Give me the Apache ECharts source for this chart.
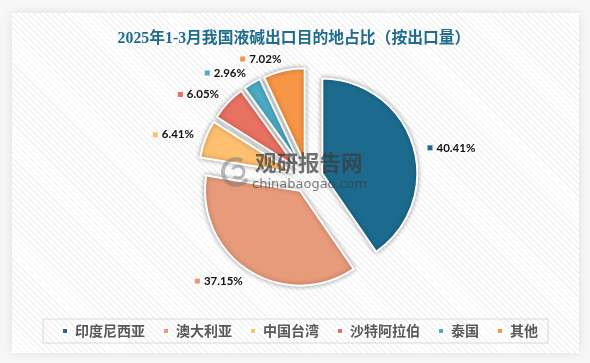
<!DOCTYPE html>
<html>
<head>
<meta charset="utf-8">
<script src="https://cdn.jsdelivr.net/npm/echarts@6/dist/echarts.min.js"></script>
<style>
html,body{margin:0;padding:0;background:#f7f7f7;}
#card{position:absolute;left:12px;top:13px;width:567px;height:340px;
 background:repeating-linear-gradient(45deg,#ffffff 0px,#ffffff 3px,#f1f1f1 3px,#f1f1f1 4.2px);
 box-shadow:0 0 10px rgba(0,0,0,0.10);}
#chart{position:absolute;left:0;top:0;width:590px;height:363px;}
</style>
</head>
<body>
<div id="card"></div>
<div id="chart"></div>
<script>
var titleText = '2025年1-3月我国液碱出口目的地占比（按出口量）';
var categories = ['印度尼西亚', '澳大利亚', '中国台湾', '沙特阿拉伯', '泰国', '其他'];
var shares = [40.41, 37.15, 6.41, 6.05, 2.96, 7.02];
var colors = ['#1c6b8e', '#e89b7a', '#fec06f', '#e97161', '#4bacc6', '#f79646'];

var rich = { t: { fontSize: 11.5, fontWeight: 'bold', color: '#111', fontFamily: 'Lato, Liberation Sans, sans-serif', padding: [0, 0, 0, 4] } };
colors.forEach(function (c, i) {
  rich['i' + i] = { width: 5, height: 5, backgroundColor: c };
});

var data = categories.map(function (name, i) {
  return { name: name, value: shares[i], selected: true, itemStyle: { color: colors[i] } };
});

var chart = echarts.init(document.getElementById('chart'), null, { renderer: 'canvas' });
chart.setOption({
  animation: false,
  color: colors,
  title: {
    text: titleText,
    left: 289,
    top: 26,
    textAlign: 'center',
    textStyle: { fontSize: 15.8, fontWeight: 'bold', color: '#1f6c8c', fontFamily: 'Liberation Serif, Noto Sans CJK SC, serif' }
  },
  legend: {
    data: categories,
    left: 43,
    top: 319,
    orient: 'horizontal',
    icon: 'rect',
    itemWidth: 6,
    itemHeight: 6,
    itemGap: 17,
    borderColor: '#d9d9d9',
    borderWidth: 1,
    padding: [5, 10, 5, 18],
    textStyle: { fontSize: 14, fontWeight: 'bold', color: '#595959', fontFamily: 'Noto Sans CJK SC', padding: [0, 0, 0, 2] }
  },
  graphic: [
    { type: 'arc', z: 100, shape: { cx: 236, cy: 172, r: 13, startAngle: 0.6, endAngle: 5.2 }, style: { stroke: 'rgba(120,120,120,0.5)', lineWidth: 4, fill: null } },
    { type: 'arc', z: 100, shape: { cx: 238, cy: 172, r: 6, startAngle: 3.6, endAngle: 8.6 }, style: { stroke: 'rgba(120,120,120,0.5)', lineWidth: 3, fill: null } },
    { type: 'text', left: 255, top: 152, z: 100, style: { text: '观研报告网', fontSize: 21.5, fontWeight: 'bold', fill: 'rgba(60,60,60,0.72)', fontFamily: 'Noto Sans CJK SC' } },
    { type: 'text', left: 252, top: 178, z: 100, style: { text: 'chinabaogao.com', fontSize: 13, fill: 'rgba(60,60,60,0.68)', fontFamily: 'DejaVu Sans, sans-serif' } }
  ],
  series: [{
    type: 'pie',
    center: [308, 178],
    radius: 95,
    startAngle: 90,
    clockwise: true,
    selectedMode: 'multiple',
    selectedOffset: 15,
    avoidLabelOverlap: false,
    itemStyle: { borderColor: '#ffffff', borderWidth: 2, shadowBlur: 5, shadowColor: 'rgba(0,0,0,0.35)' },
    label: {
      show: true,
      position: 'outside',
      distanceToLabelLine: 0,
      formatter: function (p) { return '{i' + p.dataIndex + '|}{t|' + p.value.toFixed(2) + '%}'; },
      rich: rich
    },
    labelLine: { show: false, length: 12, length2: 0 },
    labelLayout: function (p) {
      if (p.dataIndex === 0) { return { dx: 3, dy: 6 }; }
      return {};
    },
    emphasis: { scale: false },
    data: data
  }]
});
</script>
</body>
</html>
